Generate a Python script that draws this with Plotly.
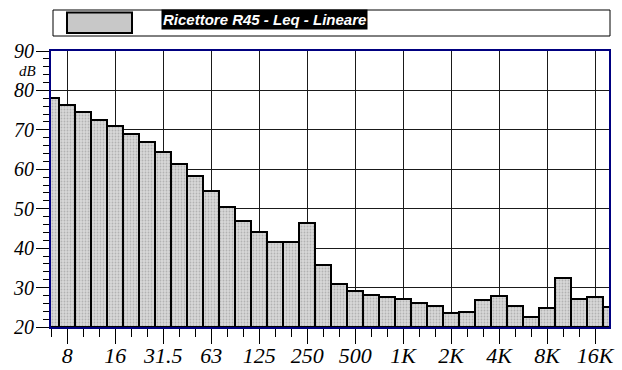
import plotly.graph_objects as go

# 1/3-octave bands (Hz) and Leq values (dB, linear weighting)
bands = ["6.3", "8", "10", "12.5", "16", "20", "25", "31.5", "40", "50", "63", "80",
         "100", "125", "160", "200", "250", "315", "400", "500", "630", "800", "1K",
         "1.25K", "1.6K", "2K", "2.5K", "3.15K", "4K", "5K", "6.3K", "8K", "10K",
         "12.5K", "16K", "20K"]
leq = [78.1, 76.2, 74.5, 72.6, 70.9, 69.0, 66.8, 64.3, 61.3, 58.2, 54.4, 50.5,
       46.9, 44.0, 41.6, 41.6, 46.3, 35.7, 31.0, 29.2, 28.0, 27.5, 27.1,
       26.1, 25.3, 23.5, 23.9, 26.9, 27.8, 25.3, 22.6, 24.7, 32.4,
       27.1, 27.5, 25.1]
tick_labels = ["8", "16", "31.5", "63", "125", "250", "500", "1K", "2K", "4K", "8K", "16K"]
y_ticks = [20, 30, 40, 50, 60, 70, 80, 90]
series_name = "Ricettore R45 - Leq - Lineare"
y_unit = "dB"
y_floor = 20

x_idx = list(range(len(bands)))
tick_pos = [bands.index(t) for t in tick_labels]

W, H = 622, 370
ML, MR, MT, MB = 51, 13, 51, 43
PW, PH = W - ML - MR, H - MT - MB

def px(xp):
    return (xp - ML) / PW

def py(yp):
    return (H - MB - yp) / PH

fig = go.Figure()
fig.add_trace(go.Bar(
    x=x_idx, y=[v - y_floor for v in leq], base=y_floor, width=1,
    marker=dict(color="#c8c8c8",
                pattern=dict(shape=".", fgcolor="#8c8c8c", bgcolor="#d8d8d8",
                             size=3, solidity=0.3),
                line=dict(color="black", width=2)),
    showlegend=False, hoverinfo="skip",
))

xfont = dict(family="Liberation Serif", size=22, color="black", style="italic")
yfont = dict(family="Liberation Serif", size=20, color="black", style="italic")
navy = "#000080"

fig.update_xaxes(
    range=[-0.02, 34.875], tickmode="array", tickvals=tick_pos,
    ticktext=["<i>" + t + "</i>" for t in tick_labels],
    ticks="outside", ticklen=15, tickwidth=1, tickcolor="black",
    showgrid=True, gridcolor="#1a1a1a", gridwidth=1,
    minor=dict(tick0=0, dtick=1, ticks="outside", ticklen=8, tickwidth=1,
               tickcolor="black", showgrid=False),
    showline=True, linecolor=navy, linewidth=2, mirror=True,
    tickfont=xfont, zeroline=False, automargin=False, ticklabelstandoff=-7,
)
fig.update_yaxes(
    range=[20, 90], tickmode="array", tickvals=y_ticks,
    ticktext=["<i>" + str(v) + "</i>" for v in y_ticks],
    ticks="outside", ticklen=13, tickwidth=1, tickcolor="black",
    showgrid=True, gridcolor="#1a1a1a", gridwidth=1,
    minor=dict(tick0=20, dtick=2, ticks="outside", ticklen=6, tickwidth=1,
               tickcolor="black", showgrid=False),
    showline=True, linecolor=navy, linewidth=2, mirror=True,
    tickfont=yfont, zeroline=False, automargin=False, ticklabelstandoff=-2,
)

shapes = [
    dict(type="rect", xref="paper", yref="paper",
         x0=px(53), x1=px(610), y0=py(36), y1=py(10),
         line=dict(color="black", width=1), fillcolor="white", layer="above"),
    dict(type="rect", xref="paper", yref="paper",
         x0=px(67), x1=px(132), y0=py(33), y1=py(12.5),
         line=dict(color="black", width=2), fillcolor="#c8c8c8", layer="above"),
]
annotations = [
    dict(text="<b><i>" + series_name + "</i></b>", xref="paper", yref="paper",
         x=px(161), y=py(19.5), xanchor="left", yanchor="middle", showarrow=False,
         bgcolor="black", borderpad=1,
         font=dict(family="Liberation Sans", size=15, color="white")),
    dict(text="<i>" + y_unit + "</i>", xref="paper", yref="paper",
         x=px(38), y=py(71), xanchor="right", yanchor="middle", showarrow=False,
         font=dict(family="Liberation Serif", size=15, color="black")),
]

fig.update_layout(
    width=W, height=H, margin=dict(l=ML, r=MR, t=MT, b=MB, autoexpand=False),
    paper_bgcolor="white", plot_bgcolor="white",
    bargap=0, shapes=shapes, annotations=annotations,
)
fig.write_html("out.html", config={"displayModeBar": False},
               post_script="document.body.style.margin='0';document.body.style.padding='0';")
